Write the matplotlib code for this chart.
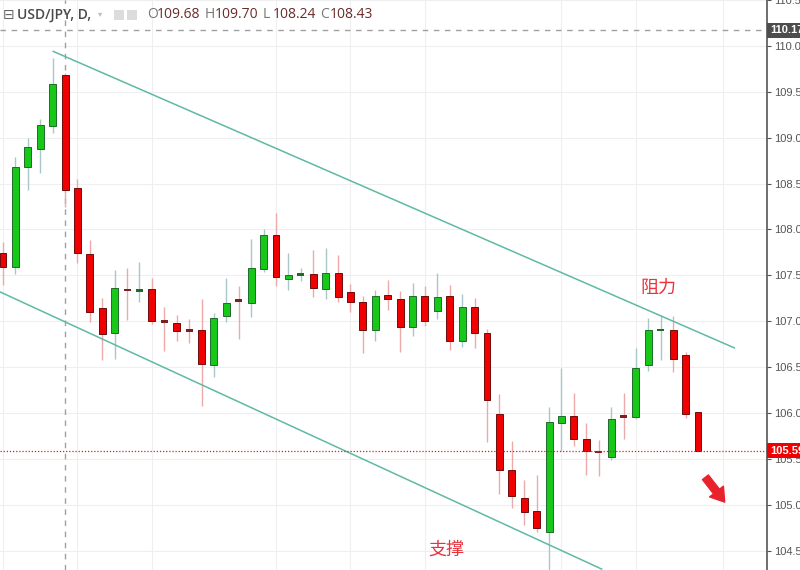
import matplotlib
matplotlib.use('Agg')
import matplotlib.pyplot as plt

plt.rcParams['font.family'] = ['Noto Sans CJK SC', 'DejaVu Sans']

# daily USD/JPY candles
opens = [107.74, 107.59, 108.68, 108.88, 109.13, 109.68, 108.45, 107.73, 107.14, 106.87,
         107.35, 107.33, 107.35, 107.01, 106.98, 106.91, 106.91, 106.52, 107.06, 107.24,
         107.20, 107.57, 107.94, 107.46, 107.50, 107.51, 107.35, 107.53, 107.32, 107.21,
         106.91, 107.29, 107.24, 106.94, 107.27, 107.11, 107.27, 106.78, 107.16, 106.87,
         105.99, 105.38, 105.07, 104.93, 104.70, 105.89, 105.97, 105.72, 105.59, 105.52,
         105.97, 105.96, 106.52, 106.89, 106.91, 106.63, 106.01]
highs = [107.86, 108.79, 109.00, 109.20, 109.87, 109.70, 108.55, 107.88, 107.25, 107.56,
         107.58, 107.65, 107.47, 107.15, 107.07, 107.03, 107.24, 107.09, 107.47, 107.38,
         107.90, 108.00, 108.18, 107.74, 107.58, 107.78, 107.80, 107.72, 107.41, 107.27,
         107.34, 107.45, 107.33, 107.42, 107.38, 107.53, 107.39, 107.30, 107.25, 106.92,
         106.21, 105.70, 105.27, 105.32, 106.07, 106.49, 106.22, 105.89, 105.71, 106.07,
         106.22, 106.71, 107.04, 107.06, 107.06, 106.67, 106.01]
lows = [107.39, 107.51, 108.43, 108.62, 109.05, 108.24, 107.63, 106.99, 106.58, 106.59,
        107.01, 107.21, 106.97, 106.68, 106.78, 106.76, 106.08, 106.39, 106.99, 106.81,
        107.05, 107.54, 107.38, 107.34, 107.44, 107.26, 107.24, 107.21, 107.10, 106.65,
        106.79, 107.12, 106.67, 106.84, 106.95, 107.03, 106.69, 106.72, 106.71, 105.68,
        105.12, 104.97, 104.78, 104.70, 104.25, 105.59, 105.64, 105.33, 105.31, 105.49,
        105.72, 105.94, 106.46, 106.58, 106.45, 105.95, 105.59]
closes = [107.59, 108.68, 108.90, 109.14, 109.59, 108.43, 107.74, 107.10, 106.86, 107.36,
          107.33, 107.34, 107.00, 106.98, 106.89, 106.89, 106.53, 107.04, 107.20, 107.22,
          107.58, 107.94, 107.48, 107.50, 107.52, 107.36, 107.53, 107.26, 107.21, 106.91,
          107.28, 107.24, 106.94, 107.28, 107.00, 107.26, 106.79, 107.15, 106.87, 106.14,
          105.38, 105.10, 104.92, 104.75, 105.90, 105.97, 105.72, 105.59, 105.56, 105.93,
          105.95, 106.49, 106.90, 106.92, 106.59, 105.99, 105.59]

last_price = 105.59
cross_price = 110.17
cross_bar = 5
header_ohlc = [('O', '109.68'), ('H', '109.70'), ('L', '108.24'), ('C', '108.43')]

# channel lines (bar index, price)
resist_line = ([4.05, 58.93], [109.94, 106.71])
support_line = ([-0.24, 48.24], [107.32, 104.30])

price_ticks = [104.5, 105.0, 105.5, 106.0, 106.5, 107.0, 107.5, 108.0, 108.5, 109.0, 109.5, 110.0, 110.5]
vgrid_bars = [0, 6, 12, 22, 28, 34, 45, 51, 58]

fig = plt.figure(figsize=(8, 5.7), dpi=100)
ax = fig.add_axes([0, 0, 767 / 800, 1])
ax.set_xlim(-0.24, 61.56)
ax.set_ylim(104.29, 110.50)

for b in vgrid_bars:
    ax.axvline(b, color='#efefef', lw=0.8, zorder=0)
for t in price_ticks:
    ax.axhline(t, color='#efefef', lw=0.8, zorder=0)

up_fill, up_edge, up_wick = '#18c818', '#1f6b2a', '#a9c6c8'
dn_fill, dn_edge, dn_wick = '#f00000', '#6e0b0b', '#eba9a9'

for i, (o, h, l, c) in enumerate(zip(opens, highs, lows, closes)):
    up = c >= o
    ax.vlines(i, l, h, color=up_wick if up else dn_wick, lw=1.0, zorder=2)
    body = abs(c - o)
    if body < 0.035:
        mid = (o + c) / 2
        ax.bar(i, 0.03, bottom=mid - 0.015, width=0.56,
               color=up_edge if up else '#7a2020', lw=0, zorder=3)
    else:
        ax.bar(i, body, bottom=min(o, c), width=0.56,
               color=up_fill if up else dn_fill,
               edgecolor=up_edge if up else dn_edge, lw=0.7, zorder=3)

ax.plot(resist_line[0], resist_line[1], color='#5fb9a5', lw=1.1, zorder=4)
ax.plot(support_line[0], support_line[1], color='#5fb9a5', lw=1.1, zorder=4)

# crosshair and last price line
ax.axhline(cross_price, color='#a0a0a0', lw=1, ls=(0, (4, 4)), zorder=1)
ax.axvline(cross_bar, color='#a0a0a0', lw=1, ls=(0, (4, 4)), zorder=1)
ax.axhline(last_price, color='#e8181c', lw=0.9, ls=(0, (1, 1.5)), zorder=4)

ax.text(52.78, 107.36, '阻力', color='#e8323c', fontsize=13, ha='center', va='center')
ax.text(35.7, 104.515, '支撑', color='#e8323c', fontsize=13, ha='center', va='center')
ax.annotate('', xy=(58.15, 105.03), xytext=(56.6, 105.30),
            arrowprops=dict(arrowstyle='simple,head_width=1.05,head_length=0.8,tail_width=0.45',
                            color='#e8232c', mutation_scale=12, shrinkA=0, shrinkB=0))

# right price scale
ax.yaxis.tick_right()
ax.set_yticks(price_ticks)
ax.set_yticklabels([f'{t:.2f}' for t in price_ticks], family=['Liberation Sans', 'DejaVu Sans'])
ax.tick_params(axis='y', length=3, width=0.8, color='#555555', labelcolor='#555555',
               labelsize=8, pad=2)
ax.set_xticks([])
for side in ['top', 'bottom', 'left']:
    ax.spines[side].set_visible(False)
ax.spines['right'].set_color('#555555')
ax.spines['right'].set_linewidth(1.2)

ytr = ax.get_yaxis_transform()
ax.text(1.004, cross_price, f'{cross_price:.2f}', transform=ytr, ha='left', va='center',
        fontsize=8, color='white', fontweight='bold', family=['Liberation Sans', 'DejaVu Sans'],
        bbox=dict(boxstyle='square,pad=0.25', fc='#4d4d4d', ec='none'), clip_on=False)
ax.text(1.004, last_price, f'{last_price:.2f}', transform=ytr, ha='left', va='center',
        fontsize=8, color='white', fontweight='bold', family=['Liberation Sans', 'DejaVu Sans'],
        bbox=dict(boxstyle='square,pad=0.25', fc='#f00000', ec='none'), clip_on=False)

# header
def px(x, y):
    return x / 800, 1 - y / 570

fig.text(*px(3, 15), '⊟', fontsize=10, color='#666666', va='center', family=['DejaVu Sans'])
fig.text(*px(17, 15), 'USD/JPY, D,', fontsize=10, color='#4a4a4a', va='center',
         fontweight='semibold', family=['Open Sans', 'DejaVu Sans'])
fig.text(*px(98, 14), '▾', fontsize=6, color='#bbbbbb', va='center', family=['DejaVu Sans'])
for bx in [114, 127]:
    fig.patches.append(plt.Rectangle(px(bx, 20), 10 / 800, 10 / 570, transform=fig.transFigure,
                                     fc='#dcdcdc', ec='none'))
hx = [147, 205, 263, 320]
for x0, (k, v) in zip(hx, header_ohlc):
    fig.text(*px(x0, 15), k, fontsize=10, color='#777777', va='center',
             family=['Open Sans', 'DejaVu Sans'])
    fig.text(*px(x0 + 10, 15), v, fontsize=10, color='#6b2c2c', va='center',
             family=['Open Sans', 'DejaVu Sans'])

fig.savefig('out.png', dpi=100)
